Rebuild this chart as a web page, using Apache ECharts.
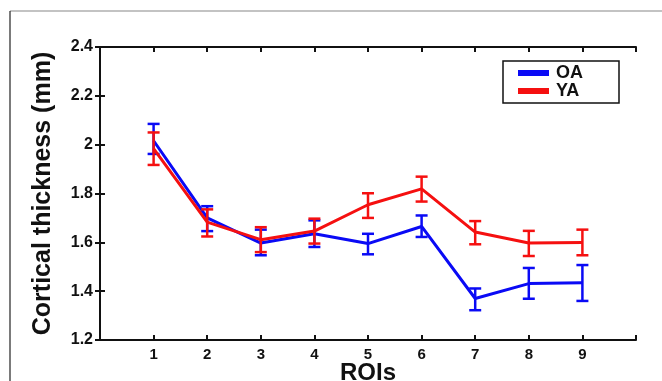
<!DOCTYPE html>
<html>
<head>
<meta charset="utf-8">
<script src="https://cdn.jsdelivr.net/npm/echarts@6/dist/echarts.min.js"></script>
<style>
  html, body { margin: 0; padding: 0; background: #fff; }
  #chart { width: 662px; height: 381px; }
</style>
</head>
<body>
<div id="chart"></div>
<script>
// ROI numbers and mean cortical thickness (mm) with error bar bounds
const rois = [1, 2, 3, 4, 5, 6, 7, 8, 9];

const oaMean = [2.016, 1.700, 1.597, 1.635, 1.595, 1.665, 1.370, 1.431, 1.434];
const oaLow  = [1.962, 1.646, 1.547, 1.581, 1.551, 1.622, 1.322, 1.369, 1.360];
const oaHigh = [2.085, 1.748, 1.652, 1.690, 1.635, 1.710, 1.411, 1.495, 1.507];

const yaMean = [1.984, 1.683, 1.611, 1.646, 1.754, 1.819, 1.642, 1.597, 1.599];
const yaLow  = [1.917, 1.624, 1.560, 1.595, 1.700, 1.767, 1.592, 1.544, 1.547];
const yaHigh = [2.050, 1.735, 1.662, 1.697, 1.801, 1.869, 1.687, 1.647, 1.652];

const BLUE = '#0a0af5';
const RED = '#f51010';
const FONT = 'Liberation Sans, Arial, sans-serif';

const chart = echarts.init(document.getElementById('chart'));

function errorBars(color) {
    return function (params, api) {
        const x = api.value(0);
        const top = api.coord([x, api.value(2)]);
        const bot = api.coord([x, api.value(1)]);
        const w = 6;
        const style = { stroke: color, lineWidth: 2.5 };
        return {
            type: 'group',
            children: [
                { type: 'line', shape: { x1: top[0], y1: top[1], x2: bot[0], y2: bot[1] }, style: style },
                { type: 'line', shape: { x1: top[0] - w, y1: top[1], x2: top[0] + w, y2: top[1] }, style: style },
                { type: 'line', shape: { x1: bot[0] - w, y1: bot[1], x2: bot[0] + w, y2: bot[1] }, style: style }
            ]
        };
    };
}

const axisCommon = {
    type: 'value',
    axisLine: { show: true, lineStyle: { color: '#111', width: 2 } },
    axisTick: { show: true, inside: true, length: 5, lineStyle: { color: '#111', width: 2 } },
    splitLine: { show: false }
};

const option = {
    animation: false,
    backgroundColor: '#fff',
    grid: { left: 100, right: 26, top: 47, bottom: 41, outerBoundsMode: 'none', containLabel: false },
    xAxis: [
        Object.assign({}, axisCommon, {
            min: 0, max: 10, interval: 1,
            position: 'bottom',
            name: 'ROIs',
            nameLocation: 'middle',
            nameGap: 21,
            nameMoveOverlap: false,
            nameTextStyle: { fontFamily: FONT, fontWeight: 'bold', fontSize: 24, color: '#111' },
            axisLabel: {
                margin: 7,
                fontFamily: FONT, fontWeight: 'bold', fontSize: 15, color: '#111',
                formatter: function (v) { return (v >= 1 && v <= 9) ? String(v) : ''; }
            }
        }),
        Object.assign({}, axisCommon, {
            min: 0, max: 10, interval: 1,
            position: 'top',
            axisLabel: { show: false }
        })
    ],
    yAxis: [
        Object.assign({}, axisCommon, {
            min: 1.2, max: 2.4, interval: 0.2,
            position: 'left',
            name: 'Cortical thickness (mm)',
            nameLocation: 'middle',
            nameGap: 44,
            nameMoveOverlap: false,
            nameTextStyle: { fontFamily: FONT, fontWeight: 'bold', fontSize: 25, color: '#111' },
            axisLabel: {
                margin: 7,
                fontFamily: FONT, fontWeight: 'bold', fontSize: 16, color: '#111',
                formatter: function (v) { return String(+v.toFixed(1)); }
            }
        }),
        Object.assign({}, axisCommon, {
            min: 1.2, max: 2.4, interval: 0.2,
            position: 'right',
            axisLabel: { show: false }
        })
    ],
    legend: {
        data: ['OA', 'YA'],
        orient: 'vertical',
        left: 503,
        top: 61,
        padding: [3, 36, 3, 15],
        itemGap: 0,
        itemWidth: 31,
        itemHeight: 6,
        icon: 'rect',
        borderColor: '#111',
        borderWidth: 1.5,
        backgroundColor: '#fff',
        textStyle: { fontFamily: FONT, fontWeight: 'bold', fontSize: 18, color: '#111', padding: [0, 0, 0, 2] }
    },
    graphic: [
        { type: 'line', shape: { x1: 10, y1: 11, x2: 662, y2: 11 }, style: { stroke: '#888', lineWidth: 1.2 } },
        { type: 'line', shape: { x1: 10, y1: 11, x2: 10, y2: 381 }, style: { stroke: '#222', lineWidth: 1.2 } }
    ],
    series: [
        {
            name: 'OA',
            type: 'line',
            data: rois.map((r, i) => [r, oaMean[i]]),
            symbol: 'none',
            itemStyle: { color: BLUE },
            lineStyle: { color: BLUE, width: 3 },
            z: 2
        },
        {
            name: 'OA err',
            type: 'custom',
            data: rois.map((r, i) => [r, oaLow[i], oaHigh[i]]),
            renderItem: errorBars(BLUE),
            z: 2
        },
        {
            name: 'YA',
            type: 'line',
            data: rois.map((r, i) => [r, yaMean[i]]),
            symbol: 'none',
            itemStyle: { color: RED },
            lineStyle: { color: RED, width: 3 },
            z: 3
        },
        {
            name: 'YA err',
            type: 'custom',
            data: rois.map((r, i) => [r, yaLow[i], yaHigh[i]]),
            renderItem: errorBars(RED),
            z: 3
        }
    ]
};

chart.setOption(option);
</script>
</body>
</html>
